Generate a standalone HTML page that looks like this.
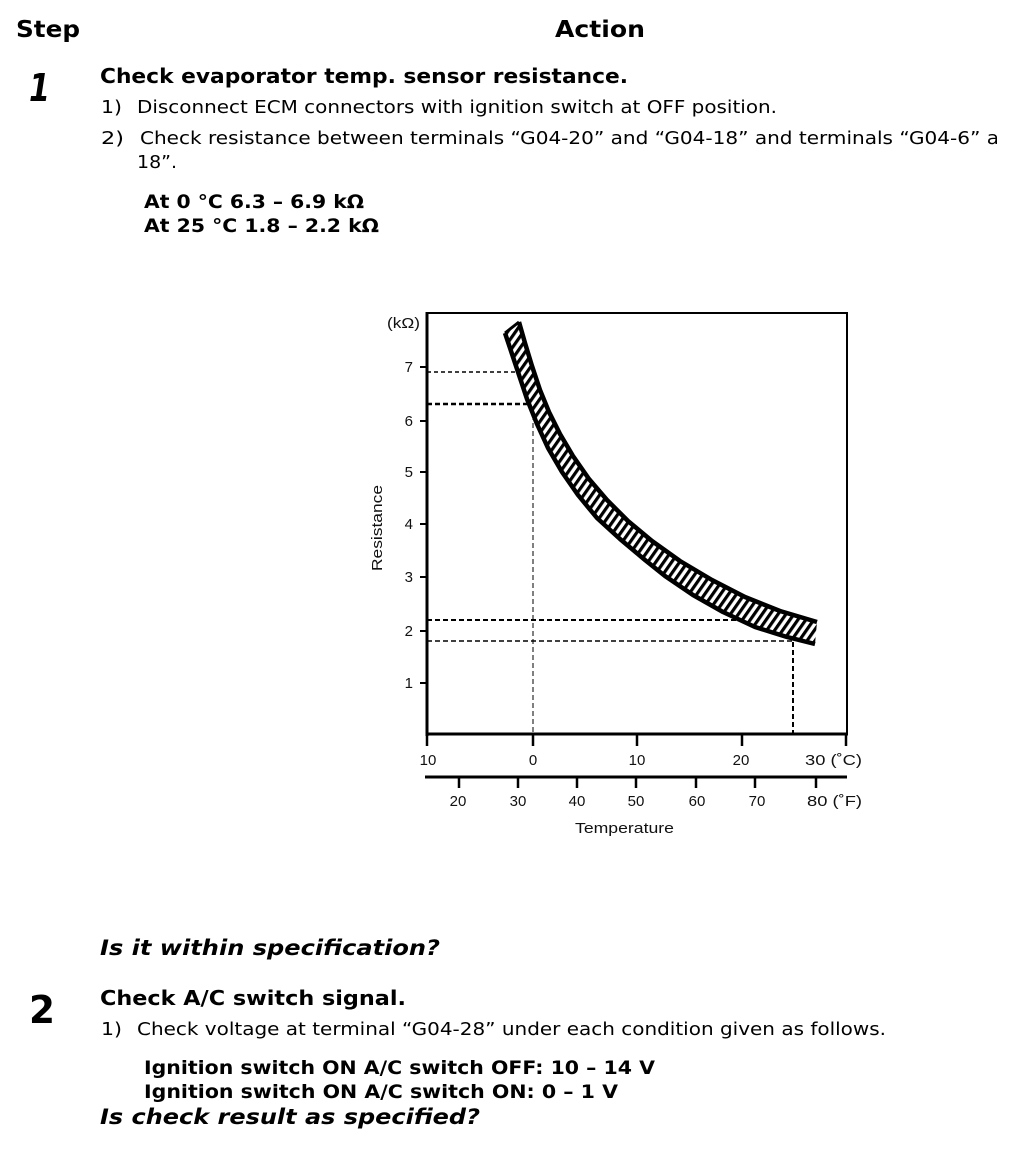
<!DOCTYPE html>
<html>
<head>
<meta charset="utf-8">
<style>
html,body{margin:0;padding:0;background:#fff;}
svg{display:block;}
.t{font-family:"DejaVu Sans","Liberation Sans",sans-serif;fill:#000;}
.b{font-weight:bold;}
.c{font-family:"Liberation Sans",sans-serif;fill:#111;font-size:15px;}
</style>
</head>
<body>
<svg width="1024" height="1170" viewBox="0 0 1024 1170" xmlns="http://www.w3.org/2000/svg">
<defs>
  <clipPath id="pg"><rect x="0" y="0" width="997" height="1170"/></clipPath>
  <pattern id="hatch" patternUnits="userSpaceOnUse" width="6.5" height="20" patternTransform="rotate(35)">
    <rect x="0" y="0" width="3.2" height="20" fill="#000"/>
  </pattern>
</defs>
<rect width="1024" height="1170" fill="#fff"/>

<!-- Header -->
<text class="t b" x="16" y="37" font-size="23" textLength="64" lengthAdjust="spacingAndGlyphs">Step</text>
<text class="t b" x="555" y="37" font-size="23" textLength="90" lengthAdjust="spacingAndGlyphs">Action</text>

<!-- Step 1 -->
<text class="t b" x="29" y="101" font-size="38" font-style="italic" textLength="21" lengthAdjust="spacingAndGlyphs">1</text>
<text class="t b" x="100" y="83" font-size="20" textLength="528" lengthAdjust="spacingAndGlyphs">Check evaporator temp. sensor resistance.</text>
<text class="t" x="101" y="113" font-size="18" textLength="21" lengthAdjust="spacingAndGlyphs">1)</text>
<text class="t" x="137" y="113" font-size="18" textLength="640" lengthAdjust="spacingAndGlyphs">Disconnect ECM connectors with ignition switch at OFF position.</text>
<text class="t" x="101" y="144" font-size="18" textLength="23" lengthAdjust="spacingAndGlyphs">2)</text>
<g clip-path="url(#pg)">
<text class="t" x="140" y="144" font-size="18" textLength="859" lengthAdjust="spacingAndGlyphs">Check resistance between terminals “G04-20” and “G04-18” and terminals “G04-6” a</text>
</g>
<text class="t" x="137" y="168" font-size="18" textLength="40" lengthAdjust="spacingAndGlyphs">18”.</text>
<text class="t b" x="144" y="208" font-size="19" textLength="220" lengthAdjust="spacingAndGlyphs">At 0 °C 6.3 – 6.9 kΩ</text>
<text class="t b" x="144" y="232" font-size="19" textLength="235" lengthAdjust="spacingAndGlyphs">At 25 °C 1.8 – 2.2 kΩ</text>

<!-- Chart -->
<g>
  <!-- dashed reference lines -->
  <line x1="427" y1="372" x2="517" y2="372" stroke="#000" stroke-width="1.5" stroke-dasharray="4,3"/>
  <line x1="427" y1="404" x2="528" y2="404" stroke="#000" stroke-width="2.5" stroke-dasharray="5,3"/>
  <line x1="533" y1="407" x2="533" y2="734" stroke="#000" stroke-width="1" stroke-dasharray="5,3"/>
  <line x1="427" y1="620" x2="739" y2="620" stroke="#000" stroke-width="2" stroke-dasharray="5,3"/>
  <line x1="427" y1="641" x2="793" y2="641" stroke="#000" stroke-width="1.5" stroke-dasharray="5,3"/>
  <line x1="793" y1="642" x2="793" y2="734" stroke="#000" stroke-width="2" stroke-dasharray="5,3"/>

  <!-- band -->
  <polygon fill="#fff" points="519,322 525,343 532,366 540,390 549,412 560,434 573,456 589,479 607,500 628,521 652,541 680,561 712,580 745,597 780,611 817,622 815,644 787,637 755,627 723,612 693,595 665,576 645,560 620,539 597,518 578,495 562,472 548,448 537,424 527,399 519,375 512,354 505,333"/>
  <polygon fill="url(#hatch)" points="519,322 525,343 532,366 540,390 549,412 560,434 573,456 589,479 607,500 628,521 652,541 680,561 712,580 745,597 780,611 817,622 815,644 787,637 755,627 723,612 693,595 665,576 645,560 620,539 597,518 578,495 562,472 548,448 537,424 527,399 519,375 512,354 505,333"/>
  <polyline fill="none" stroke="#000" stroke-width="4.5" stroke-linejoin="round" points="519,322 525,343 532,366 540,390 549,412 560,434 573,456 589,479 607,500 628,521 652,541 680,561 712,580 745,597 780,611 817,622"/>
  <polyline fill="none" stroke="#000" stroke-width="4.5" stroke-linejoin="round" points="505,333 512,354 519,375 527,399 537,424 548,448 562,472 578,495 597,518 620,539 645,560 665,576 693,595 723,612 755,627 787,637 815,644"/>
  <line x1="505" y1="333" x2="519" y2="322" stroke="#000" stroke-width="3"/>

  <!-- frame -->
  <line x1="427" y1="313" x2="847" y2="313" stroke="#000" stroke-width="2"/>
  <line x1="847" y1="312" x2="847" y2="735" stroke="#000" stroke-width="2"/>
  <line x1="427" y1="312" x2="427" y2="736" stroke="#000" stroke-width="3"/>
  <line x1="426" y1="734" x2="848" y2="734" stroke="#000" stroke-width="3"/>

  <!-- y ticks -->
  <g stroke="#000" stroke-width="2">
    <line x1="420" y1="367" x2="427" y2="367"/>
    <line x1="420" y1="421" x2="427" y2="421"/>
    <line x1="420" y1="472" x2="427" y2="472"/>
    <line x1="420" y1="524" x2="427" y2="524"/>
    <line x1="420" y1="577" x2="427" y2="577"/>
    <line x1="420" y1="631" x2="427" y2="631"/>
    <line x1="420" y1="683" x2="427" y2="683"/>
  </g>
  <g class="c" text-anchor="end">
    <text x="413" y="372">7</text>
    <text x="413" y="426">6</text>
    <text x="413" y="477">5</text>
    <text x="413" y="529">4</text>
    <text x="413" y="582">3</text>
    <text x="413" y="636">2</text>
    <text x="413" y="688">1</text>
  </g>
  <text class="c" x="387" y="328" font-size="14" textLength="33" lengthAdjust="spacingAndGlyphs">(kΩ)</text>
  <text class="c" transform="translate(382,528) rotate(-90)" text-anchor="middle" font-size="16" textLength="86" lengthAdjust="spacingAndGlyphs">Resistance</text>

  <!-- x ticks (°C) -->
  <g stroke="#000" stroke-width="2.5">
    <line x1="427" y1="734" x2="427" y2="746"/>
    <line x1="533" y1="734" x2="533" y2="746"/>
    <line x1="637" y1="734" x2="637" y2="746"/>
    <line x1="742" y1="734" x2="742" y2="746"/>
    <line x1="846" y1="734" x2="846" y2="746"/>
  </g>
  <g class="c" text-anchor="middle">
    <text x="428" y="765">10</text>
    <text x="533" y="765">0</text>
    <text x="637" y="765">10</text>
    <text x="741" y="765">20</text>
  </g>
  <text class="c" x="805" y="765" textLength="57" lengthAdjust="spacingAndGlyphs">30 (˚C)</text>

  <!-- °F axis -->
  <line x1="425" y1="777" x2="847" y2="777" stroke="#000" stroke-width="3"/>
  <g stroke="#000" stroke-width="2.5">
    <line x1="459" y1="777" x2="459" y2="788"/>
    <line x1="518" y1="777" x2="518" y2="788"/>
    <line x1="577" y1="777" x2="577" y2="788"/>
    <line x1="636" y1="777" x2="636" y2="788"/>
    <line x1="696" y1="777" x2="696" y2="788"/>
    <line x1="755" y1="777" x2="755" y2="788"/>
    <line x1="816" y1="777" x2="816" y2="788"/>
  </g>
  <g class="c" text-anchor="middle">
    <text x="458" y="806">20</text>
    <text x="518" y="806">30</text>
    <text x="577" y="806">40</text>
    <text x="636" y="806">50</text>
    <text x="697" y="806">60</text>
    <text x="757" y="806">70</text>
  </g>
  <text class="c" x="807" y="806" textLength="55" lengthAdjust="spacingAndGlyphs">80 (˚F)</text>
  <text class="c" x="575" y="833" font-size="16" textLength="99" lengthAdjust="spacingAndGlyphs">Temperature</text>
</g>

<!-- Question 1 -->
<text class="t b" x="100" y="955" font-size="21" font-style="italic" textLength="340" lengthAdjust="spacingAndGlyphs">Is it within specification?</text>

<!-- Step 2 -->
<text class="t b" x="29" y="1023" font-size="38" textLength="26" lengthAdjust="spacingAndGlyphs">2</text>
<text class="t b" x="100" y="1005" font-size="20" textLength="306" lengthAdjust="spacingAndGlyphs">Check A/C switch signal.</text>
<text class="t" x="101" y="1035" font-size="18" textLength="21" lengthAdjust="spacingAndGlyphs">1)</text>
<text class="t" x="137" y="1035" font-size="18" textLength="749" lengthAdjust="spacingAndGlyphs">Check voltage at terminal “G04-28” under each condition given as follows.</text>
<text class="t b" x="144" y="1074" font-size="19" textLength="511" lengthAdjust="spacingAndGlyphs">Ignition switch ON A/C switch OFF: 10 – 14 V</text>
<text class="t b" x="144" y="1098" font-size="19" textLength="474" lengthAdjust="spacingAndGlyphs">Ignition switch ON A/C switch ON: 0 – 1 V</text>

<text class="t b" x="100" y="1124" font-size="21" font-style="italic" textLength="380" lengthAdjust="spacingAndGlyphs">Is check result as specified?</text>
</svg>
</body>
</html>
